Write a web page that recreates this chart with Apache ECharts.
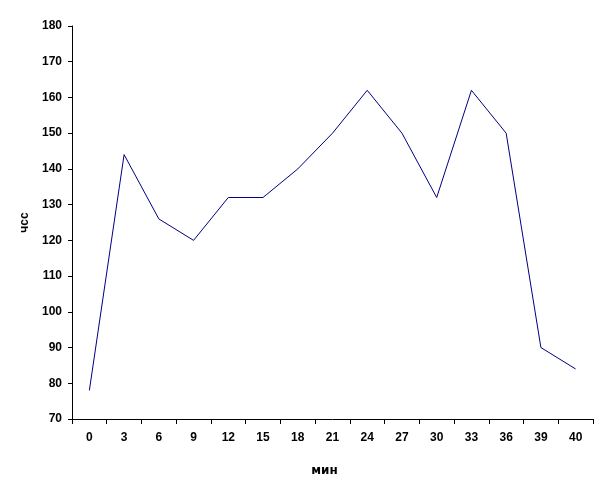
<!DOCTYPE html>
<html>
<head>
<meta charset="utf-8">
<script src="https://cdn.jsdelivr.net/npm/echarts@6/dist/echarts.min.js"></script>
<style>html,body{margin:0;padding:0;background:#fff;}#c{width:609px;height:490px;}</style>
</head>
<body>
<div id="c"></div>
<script>
const categories = ['0','3','6','9','12','15','18','21','24','27','30','33','36','39','40'];
const hrValues = [78,144,126,120,132,132,140,150,162,150,132,162,150,90,84];
const xName = 'мин';
const yName = 'чсс';

const font = 'Liberation Sans, Arial, sans-serif';
const chart = echarts.init(document.getElementById('c'), null, {renderer:'canvas'});
chart.setOption({
  animation:false,
  backgroundColor:'#ffffff',
  grid:{left:72,right:16,top:26,bottom:71,containLabel:false},
  xAxis:{
    type:'category',
    data:categories,
    boundaryGap:true,
    name:xName,
    nameLocation:'middle',
    nameGap:46,
    nameTextStyle:{fontFamily:'DejaVu Sans, sans-serif',fontWeight:'bold',fontSize:12,color:'#000',padding:[0,16,0,0]},
    axisLine:{lineStyle:{color:'#000',width:1}},
    axisTick:{show:true,length:5,alignWithLabel:false,lineStyle:{color:'#000'}},
    axisLabel:{fontFamily:font,fontWeight:'bold',fontSize:12,color:'#000',margin:13,interval:0},
    splitLine:{show:false}
  },
  yAxis:{
    type:'value',
    min:70,max:180,interval:10,
    name:yName,
    nameLocation:'middle',
    nameGap:39,
    nameRotate:90,
    nameTextStyle:{fontFamily:font,fontWeight:'bold',fontSize:12,color:'#000'},
    axisLine:{show:true,lineStyle:{color:'#000',width:1}},
    axisTick:{show:true,length:4,lineStyle:{color:'#000'}},
    axisLabel:{fontFamily:font,fontWeight:'bold',fontSize:12,color:'#000',margin:10},
    splitLine:{show:false}
  },
  series:[{
    type:'line',
    data:hrValues,
    symbol:'none',
    lineStyle:{color:'#000080',width:1},
    itemStyle:{color:'#000080'}
  }]
});
</script>
</body>
</html>
